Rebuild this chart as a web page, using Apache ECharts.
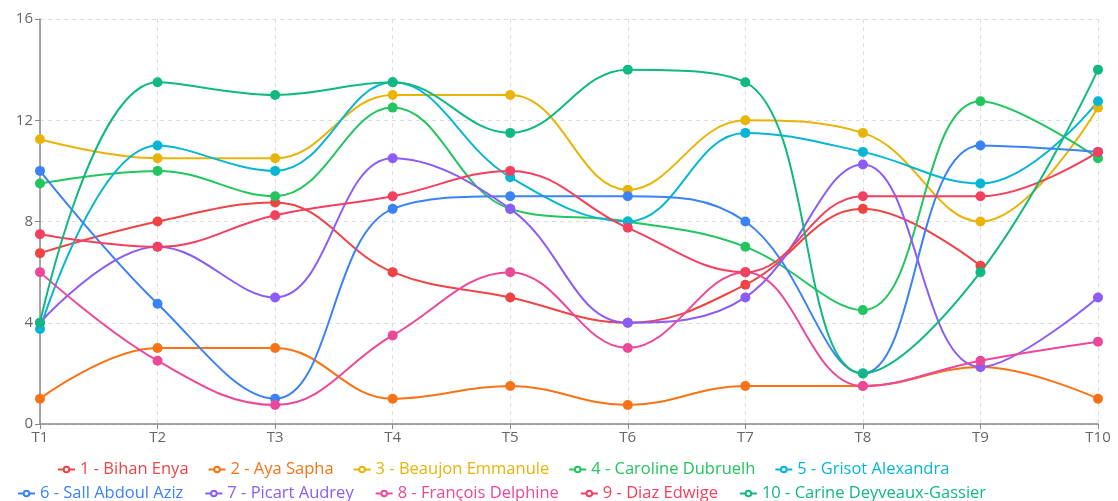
<!DOCTYPE html>
<html>
<head>
<meta charset="utf-8">
<script src="https://cdn.jsdelivr.net/npm/echarts@6/dist/echarts.min.js"></script>
<style>
html,body{margin:0;padding:0;background:#fff;}
#chart{width:1118px;height:501px;}
</style>
</head>
<body>
<div id="chart"></div>
<script>
const categories = ['T1','T2','T3','T4','T5','T6','T7','T8','T9','T10'];
const yTicks = [0, 4, 8, 12, 16];

const names = [
  '1 - Bihan Enya', '2 - Aya Sapha', '3 - Beaujon Emmanule', '4 - Caroline Dubruelh', '5 - Grisot Alexandra',
  '6 - Sall Abdoul Aziz', '7 - Picart Audrey', '8 - François Delphine', '9 - Diaz Edwige', '10 - Carine Deyveaux-Gassier'
];
const colors = ['#ef4444','#f97316','#eab308','#22c55e','#06b6d4','#3b82f6','#8b5cf6','#ec4899','#f43f5e','#10b981'];

const s1 = [6.75, 8, 8.75, 6, 5, 4, 5.5, 8.5, 6.25, null];
const s2 = [1, 3, 3, 1, 1.5, 0.75, 1.5, 1.5, 2.25, 1];
const s3 = [11.25, 10.5, 10.5, 13, 13, 9.25, 12, 11.5, 8, 12.5];
const s4 = [9.5, 10, 9, 12.5, 8.5, 8, 7, 4.5, 12.75, 10.5];
const s5 = [3.75, 11, 10, 13.5, 9.75, 8, 11.5, 10.75, 9.5, 12.75];
const s6 = [10, 4.75, 1, 8.5, 9, 9, 8, 2, 11, 10.75];
const s7 = [4, 7, 5, 10.5, 8.5, 4, 5, 10.25, 2.25, 5];
const s8 = [6, 2.5, 0.75, 3.5, 6, 3, 6, 1.5, 2.5, 3.25];
const s9 = [7.5, 7, 8.25, 9, 10, 7.75, 6, 9, 9, 10.75];
const s10 = [4, 13.5, 13, 13.5, 11.5, 14, 13.5, 2, 6, 14];
const seriesData = [s1, s2, s3, s4, s5, s6, s7, s8, s9, s10];

const chart = echarts.init(document.getElementById('chart'), null, {renderer: 'canvas'});

const legendBase = {
  orient: 'horizontal',
  itemWidth: 17,
  itemHeight: 7,
  itemGap: 19,
  lineStyle: {width: 2},
  textStyle: {fontSize: 16.5, fontFamily: 'Open Sans, sans-serif'}
};
function legendItem(i) {
  return {
    name: names[i],
    textStyle: {color: colors[i]},
    itemStyle: {color: '#fff', borderColor: colors[i], borderWidth: 2}
  };
}

chart.setOption({
  animation: false,
  color: colors,
  grid: {left: 40, right: 20, top: 19, bottom: 77, containLabel: false},
  legend: [
    Object.assign({}, legendBase, {data: [0,1,2,3,4].map(legendItem), left: 52, top: 456}),
    Object.assign({}, legendBase, {data: [5,6,7,8,9].map(legendItem), left: 12, top: 480, itemGap: 21})
  ],
  xAxis: {
    type: 'category',
    data: categories,
    boundaryGap: false,
    axisLine: {lineStyle: {color: '#888', width: 1.5}},
    axisTick: {show: true, length: 5, lineStyle: {color: '#888'}},
    axisLabel: {color: '#666', fontSize: 15, margin: 6, fontFamily: 'Open Sans, sans-serif'},
    splitLine: {show: true, lineStyle: {color: '#ddd', type: [4, 4]}}
  },
  yAxis: {
    type: 'value',
    min: yTicks[0],
    max: yTicks[yTicks.length-1],
    interval: 4,
    axisLine: {show: true, lineStyle: {color: '#888', width: 1.5}},
    axisTick: {show: true, length: 5, lineStyle: {color: '#888'}},
    axisLabel: {color: '#666', fontSize: 15, margin: 7, fontFamily: 'Open Sans, sans-serif'},
    splitLine: {show: true, lineStyle: {color: '#ddd', type: [4, 4]}}
  },
  series: seriesData.map((d, i) => ({
    name: names[i],
    type: 'line',
    data: d,
    smooth: 0.4,
    symbol: 'circle',
    symbolSize: 10,
    lineStyle: {width: 2, color: colors[i]},
    itemStyle: {color: colors[i]},
    connectNulls: false
  }))
});
</script>
</body>
</html>
